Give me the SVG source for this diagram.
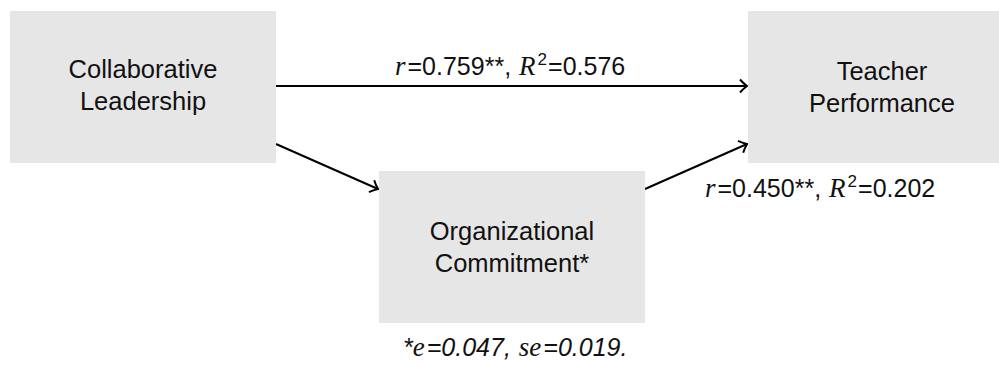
<svg xmlns="http://www.w3.org/2000/svg" width="999" height="365" viewBox="0 0 999 365">
<defs>
<style>
.box{fill:#e6e6e6;}
.nt{font-family:"Liberation Sans",Arial,sans-serif;font-size:25.5px;fill:#111;text-anchor:middle;}
.lb{font-family:"Liberation Sans",Arial,sans-serif;font-size:25px;fill:#111;}
.mi{font-family:"Liberation Serif","Times New Roman",serif;font-style:italic;font-size:27px;}
.edge{stroke:#000;stroke-width:2;fill:none;}
</style>
<marker id="arr" markerUnits="userSpaceOnUse" markerWidth="16" markerHeight="16" refX="12" refY="8" orient="auto" viewBox="0 0 16 16">
<path d="M5,1.5 Q8,5 12,8 Q8,11 5,14.5" fill="none" stroke="#000" stroke-width="2"/>
</marker>
</defs>
<rect width="999" height="365" fill="#fff"/>
<g id="connectors">
<line class="edge" x1="276" y1="86" x2="747" y2="86" marker-end="url(#arr)"/>
<line class="edge" x1="276" y1="144" x2="378" y2="189" marker-end="url(#arr)"/>
<line class="edge" x1="645" y1="189" x2="747" y2="144" marker-end="url(#arr)"/>
</g>
<g id="node-collaborative">
<rect class="box" x="10" y="11" width="266" height="152"/>
<text class="nt" x="143" y="78">Collaborative</text>
<text class="nt" x="143" y="110">Leadership</text>
</g>
<g id="node-teacher">
<rect class="box" x="748" y="11" width="266" height="152"/>
<text class="nt" x="882" y="80">Teacher</text>
<text class="nt" x="882" y="112">Performance</text>
</g>
<g id="node-organizational">
<rect class="box" x="379" y="171" width="266" height="152"/>
<text class="nt" x="512" y="240">Organizational</text>
<text class="nt" x="512" y="272">Commitment*</text>
</g>
<g id="labels">
<text class="lb" x="395" y="75"><tspan class="mi">r</tspan><tspan dx="2">=0.759**,</tspan><tspan class="mi" dx="8">R</tspan><tspan font-size="17" dx="2" dy="-10">2</tspan><tspan dx="1" dy="10">=0.576</tspan></text>
<text class="lb" x="705" y="197"><tspan class="mi">r</tspan><tspan dx="2">=0.450**,</tspan><tspan class="mi" dx="8">R</tspan><tspan font-size="17" dx="2" dy="-10">2</tspan><tspan dx="1" dy="10">=0.202</tspan></text>
<text class="lb" x="403" y="356" font-style="italic">*<tspan class="mi">e</tspan><tspan dx="2">=0.047,</tspan><tspan class="mi" dx="8">se</tspan><tspan dx="2">=0.019.</tspan></text>
</g>
</svg>
